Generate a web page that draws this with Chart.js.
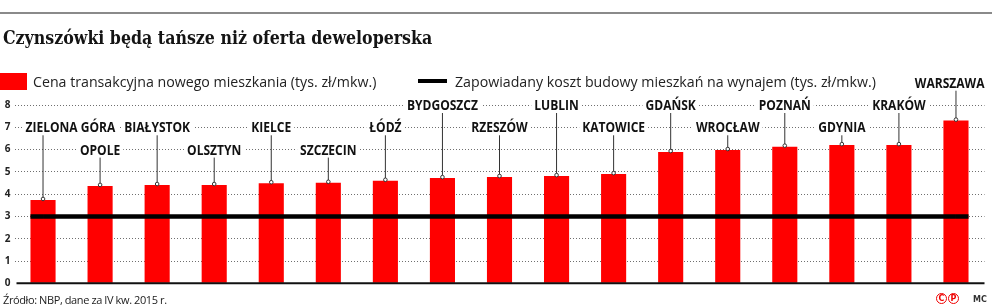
<!DOCTYPE html>
<html lang="pl">
<head>
<meta charset="utf-8">
<script src="https://cdn.jsdelivr.net/npm/chart.js@4.4.1/dist/chart.umd.min.js"></script>
<style>
  html, body { margin: 0; padding: 0; background: #fff; }
  #wrap { position: relative; width: 992px; height: 306px; overflow: hidden; }
  #myChart { position: absolute; left: 0; top: 0; }
  .rule { position: absolute; left: 0; top: 12px; width: 992px; height: 2px; background: #8a8a8a; }
  h1 { position: absolute; left: 3px; top: 27px; margin: 0; font: bold 17.6px 'DejaVu Serif Condensed', 'DejaVu Serif', serif; font-stretch: condensed; color: #141414; white-space: nowrap; }
  .leg { position: absolute; top: 72px; height: 18px; line-height: 18px; font: 14.2px 'Open Sans', sans-serif; color: #222; white-space: nowrap; }
  .sw-bar { position: absolute; left: 0; top: 73px; width: 27px; height: 17px; background: #ff0000; }
  .sw-line { position: absolute; left: 418px; top: 79px; width: 29px; height: 4px; background: #000; }
  .src { position: absolute; left: 3px; top: 292px; font: 11px 'Open Sans', sans-serif; color: #222; white-space: nowrap; letter-spacing: -0.4px; }
  .cp { position: absolute; top: 293px; width: 9px; height: 9px; border: 1.5px solid #e00; border-radius: 50%; color: #e00; font: bold 8px 'DejaVu Sans', sans-serif; line-height: 9px; text-align: center; }
  .mc { position: absolute; left: 973px; top: 295px; font: bold 8px 'DejaVu Sans', sans-serif; color: #333; }
</style>
</head>
<body>
<div id="wrap">
  <canvas id="myChart" width="992" height="306"></canvas>
  <div class="rule"></div>
  <h1>Czynszówki będą tańsze niż oferta deweloperska</h1>
  <div class="sw-bar"></div>
  <div class="leg" style="left:33px">Cena transakcyjna nowego mieszkania (tys. zł/mkw.)</div>
  <div class="sw-line"></div>
  <div class="leg" style="left:455px">Zapowiadany koszt budowy mieszkań na wynajem (tys. zł/mkw.)</div>
  <div class="src">Źródło: NBP, dane za IV kw. 2015 r.</div>
  <div class="cp" style="left:936px">C</div>
  <div class="cp" style="left:948px">P</div>
  <div class="mc">MC</div>
</div>
<script>
// dane
const cities = ['ZIELONA GÓRA', 'OPOLE', 'BIAŁYSTOK', 'OLSZTYN', 'KIELCE', 'SZCZECIN', 'ŁÓDŹ', 'BYDGOSZCZ',
    'RZESZÓW', 'LUBLIN', 'KATOWICE', 'GDAŃSK', 'WROCŁAW', 'POZNAŃ', 'GDYNIA', 'KRAKÓW', 'WARSZAWA'];
const transactionPrice = [3.74, 4.37, 4.41, 4.41, 4.49, 4.51, 4.6, 4.72, 4.77, 4.81, 4.9, 5.89, 5.98, 6.13, 6.2, 6.2, 7.3];
const buildCost = cities.map(() => 3);
const yTicks = [0, 1, 2, 3, 4, 5, 6, 7, 8];

// wysokość (w jednostkach osi) na której stoi podpis miasta
const labelRow = [7, 6, 7, 6, 7, 6, 7, 8, 7, 8, 7, 8, 7, 8, 7, 8, 9];

const ctx = document.getElementById('myChart').getContext('2d');

// podpisy miast z kreskami, linia bazowa, przedłużenie czarnej linii
const cityLabels = {
    id: 'cityLabels',
    afterDatasetsDraw(chart) {
        const c = chart.ctx;
        const area = chart.chartArea;
        const y = chart.scales.y;
        const bars = chart.getDatasetMeta(1).data;
        const pts = chart.getDatasetMeta(0).data;

        // linia 0
        c.save();
        c.strokeStyle = '#111';
        c.lineWidth = 2;
        c.beginPath();
        c.moveTo(area.left + 2, y.getPixelForValue(0));
        c.lineTo(area.right, y.getPixelForValue(0));
        c.stroke();

        // czarna linia do krawędzi skrajnych słupków
        const ly = y.getPixelForValue(buildCost[0]);
        c.strokeStyle = '#000';
        c.lineWidth = 4.5;
        c.beginPath();
        c.moveTo(bars[0].x - bars[0].width / 2, ly);
        c.lineTo(pts[0].x, ly);
        c.moveTo(pts[pts.length - 1].x, ly);
        c.lineTo(bars[bars.length - 1].x + bars[bars.length - 1].width / 2, ly);
        c.stroke();

        c.font = 'bold 14px "Open Sans", sans-serif';
        c.textBaseline = 'middle';
        c.textAlign = 'center';
        const squeeze = 0.86;
        bars.forEach((bar, i) => {
            const ty = y.getPixelForValue(labelRow[i]);
            const w = c.measureText(cities[i]).width * squeeze;
            // podpis nie wychodzi poza obszar wykresu
            let tx = bar.x;
            tx = Math.max(tx, area.left + 11 + w / 2);
            tx = Math.min(tx, area.right - w / 2);
            c.fillStyle = '#fff';
            c.fillRect(tx - w / 2 - 3, ty - 7, w + 6, 14);
            c.save();
            c.translate(tx, ty + 1);
            c.scale(squeeze, 1);
            c.fillStyle = '#111';
            c.fillText(cities[i], 0, 0);
            c.restore();

            c.strokeStyle = '#333';
            c.lineWidth = 1;
            c.beginPath();
            c.moveTo(bar.x, ty + 8);
            c.lineTo(bar.x, bar.y - 2);
            c.stroke();
            c.beginPath();
            c.arc(bar.x, bar.y - 1, 1.8, 0, Math.PI * 2);
            c.fillStyle = '#fff';
            c.fill();
            c.stroke();
        });
        c.restore();
    }
};

const chart = new Chart(ctx, {
    type: 'bar',
    data: {
        labels: cities,
        datasets: [{
            type: 'line',
            label: 'Zapowiadany koszt budowy mieszkań na wynajem (tys. zł/mkw.)',
            data: buildCost,
            borderColor: '#000',
            borderWidth: 4.5,
            pointRadius: 0,
            order: 0
        }, {
            label: 'Cena transakcyjna nowego mieszkania (tys. zł/mkw.)',
            data: transactionPrice,
            backgroundColor: '#ff0000',
            barPercentage: 0.44,
            categoryPercentage: 1,
            order: 1
        }]
    },
    options: {
        responsive: false,
        animation: false,
        events: [],
        layout: { padding: { left: 0, right: 7.5, top: 105, bottom: 22.7 } },
        plugins: { legend: { display: false }, tooltip: { enabled: false } },
        scales: {
            x: { display: false },
            y: {
                min: 0,
                max: 8,
                afterFit: (scale) => { scale.width = 14.5; },
                afterBuildTicks: (scale) => { scale.ticks = yTicks.map(v => ({ value: v })); },
                ticks: {
                    padding: 4,
                    color: '#222',
                    font: { family: 'Open Sans', size: 10, weight: 'bold' }
                },
                grid: {
                    drawTicks: false,
                    color: (c) => c.tick && c.tick.value === 0 ? 'rgba(0,0,0,0)' : '#6f6f6f',
                    lineWidth: 1
                },
                border: { display: false, dash: [1, 2] }
            }
        }
    },
    plugins: [cityLabels]
});
</script>
</body>
</html>
